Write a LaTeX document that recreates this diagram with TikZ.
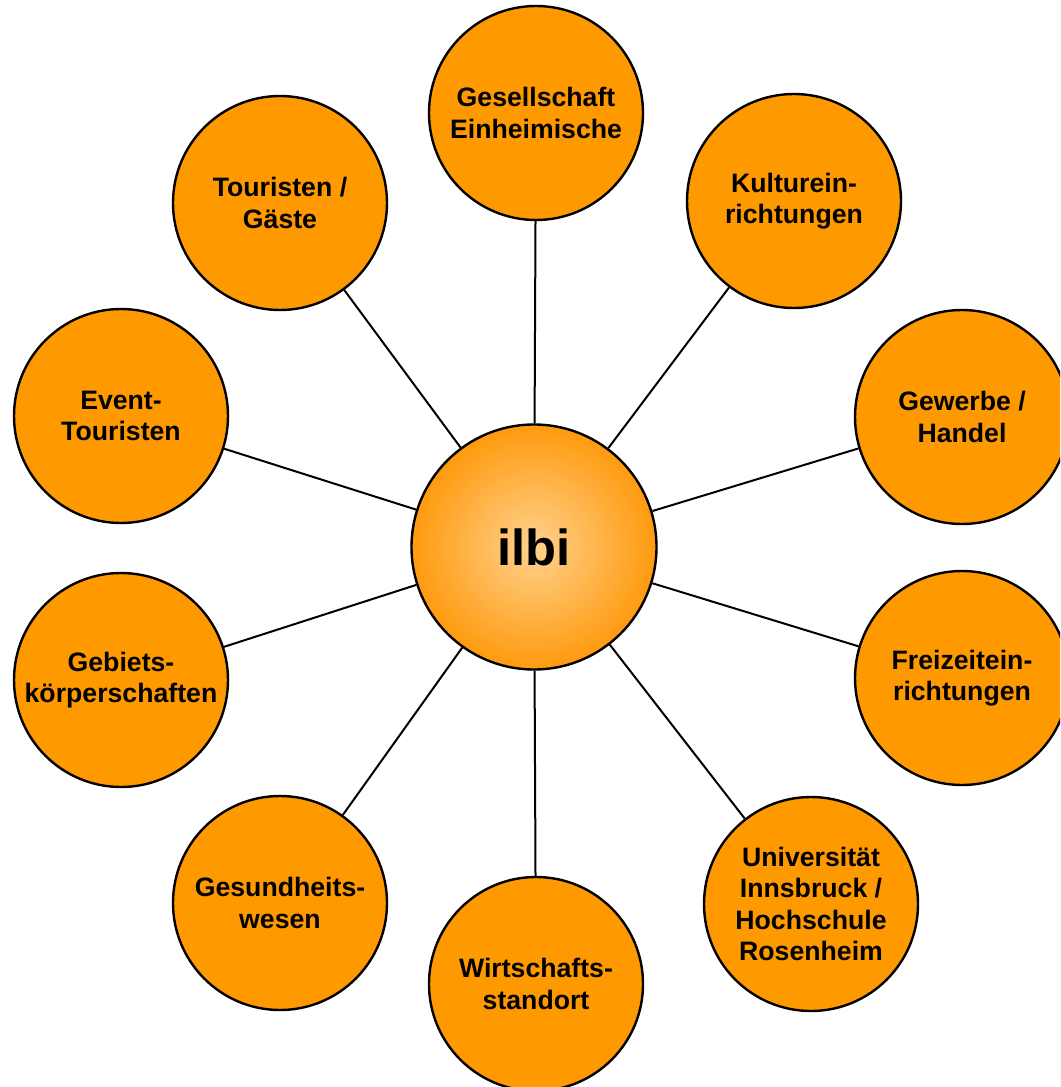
\documentclass[tikz,border=0pt]{standalone}
\usepackage{fontspec}
\setmainfont{Liberation Sans}
\definecolor{sorange}{HTML}{FF9900}
\definecolor{hubin}{HTML}{FFD28E}
\definecolor{hubout}{HTML}{FF9A0E}
\begin{document}
\begin{tikzpicture}[x=0.75pt,y=-0.75pt,
  hub/.style={circle, draw=black, line width=1.8pt, minimum size=183.75pt, inner sep=0pt,
    inner color=hubin, outer color=hubout, font=\bfseries\fontsize{38}{44}\selectfont},
  sat/.style={circle, draw=black, line width=1.8pt, fill=sorange, minimum size=160.5pt,
    inner sep=0pt, align=center, font=\bfseries\fontsize{20}{23.5}\selectfont},
  spoke/.style={draw=black, line width=1.5pt}]
\useasboundingbox (0,0) rectangle (1060,1087);
\clip (0,0) rectangle (1060,1087);
\node[hub] (hub) at (534,547) {ilbi};
\node[sat] (ges) at (536,113) {Gesellschaft\\Einheimische};
\node[sat] (kul) at (794,201) {Kulturein-\\richtungen};
\node[sat] (gew) at (962,417) {Gewerbe /\\Handel};
\node[sat] (fre) at (962,678) {Freizeitein-\\richtungen};
\node[sat] (uni) at (811,904) {Universität\\Innsbruck /\\Hochschule\\Rosenheim};
\node[sat] (wir) at (536,984) {Wirtschafts-\\standort};
\node[sat] (gsd) at (280,903) {Gesundheits-\\wesen};
\node[sat] (geb) at (121,680) {Gebiets-\\körperschaften};
\node[sat] (evt) at (121,416) {Event-\\Touristen};
\node[sat] (tou) at (280,203) {Touristen /\\Gäste};
\foreach \n in {ges,kul,gew,fre,uni,wir,gsd,geb,evt,tou}
  \draw[spoke] (hub) -- (\n);
\end{tikzpicture}
\end{document}
